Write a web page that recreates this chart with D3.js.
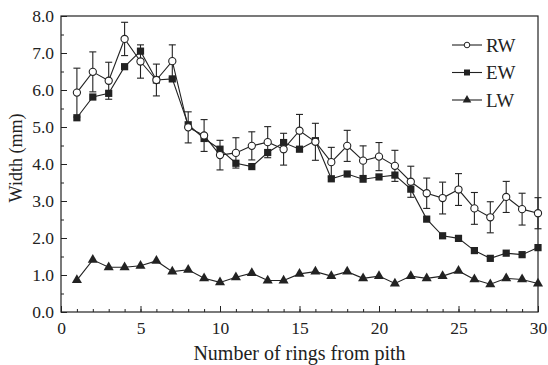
<!DOCTYPE html>
<html>
<head>
<meta charset="utf-8">
<script src="https://cdn.jsdelivr.net/npm/d3@7"></script>
<style>
  body { margin: 0; background: #fff; }
  svg { font-family: "Liberation Serif", "Times New Roman", serif; }
</style>
</head>
<body>
<svg id="chart" width="548" height="365"></svg>
<script>
// ring number from pith
const rings = d3.range(1, 31);
// ring width (RW), earlywood (EW), latewood (LW) in mm
const rw = [5.93, 6.49, 6.25, 7.38, 6.77, 6.27, 6.78, 4.99, 4.77, 4.24,
            4.30, 4.49, 4.59, 4.40, 4.90, 4.60, 4.05, 4.49, 4.09, 4.20,
            3.95, 3.52, 3.21, 3.08, 3.31, 2.80, 2.56, 3.11, 2.78, 2.67];
const rwErr = [0.66, 0.54, 0.50, 0.45, 0.45, 0.43, 0.44, 0.42, 0.43, 0.40,
               0.41, 0.38, 0.42, 0.43, 0.44, 0.50, 0.40, 0.42, 0.40, 0.38,
               0.42, 0.42, 0.41, 0.43, 0.43, 0.43, 0.42, 0.42, 0.43, 0.42];
const ew = [5.25, 5.81, 5.91, 6.63, 7.05, 6.27, 6.30, 5.06, 4.69, 4.40,
            4.02, 3.93, 4.31, 4.58, 4.40, 4.63, 3.60, 3.73, 3.59, 3.65,
            3.70, 3.32, 2.51, 2.06, 1.99, 1.66, 1.45, 1.59, 1.55, 1.74];
const lw = [0.86, 1.41, 1.21, 1.21, 1.25, 1.38, 1.09, 1.14, 0.91, 0.80,
            0.94, 1.05, 0.85, 0.85, 1.03, 1.09, 0.97, 1.09, 0.91, 0.97,
            0.77, 0.97, 0.91, 0.97, 1.11, 0.88, 0.75, 0.91, 0.88, 0.77];
const yTicks = [0, 1, 2, 3, 4, 5, 6, 7, 8];
const xTicks = [0, 5, 10, 15, 20, 25, 30];
const seriesNames = ['RW', 'EW', 'LW'];

const svg = d3.select('#chart');
const margin = { top: 16, right: 10, bottom: 53, left: 61 };
const width = 548, height = 365;
const innerWidth = width - margin.left - margin.right;
const innerHeight = height - margin.top - margin.bottom;
const ink = '#222';

const x = d3.scaleLinear().domain([0, 30]).range([0, innerWidth]);
const y = d3.scaleLinear().domain([0, 8]).range([innerHeight, 0]);

const g = svg.append('g').attr('transform', `translate(${margin.left},${margin.top})`);

// minor ticks (inward), no labels
g.append('g').attr('transform', `translate(0,${innerHeight})`)
  .call(d3.axisBottom(x).tickValues(d3.range(0, 31)).tickSize(-3).tickFormat(''))
  .call(a => { a.select('.domain').remove(); a.selectAll('text').remove(); });
g.append('g')
  .call(d3.axisLeft(y).tickValues(d3.range(0, 8.5, 0.5)).tickSize(-3).tickFormat(''))
  .call(a => { a.select('.domain').remove(); a.selectAll('text').remove(); });

// major ticks + labels
const xAxis = g.append('g').attr('transform', `translate(0,${innerHeight})`)
  .call(d3.axisBottom(x).tickValues(xTicks).tickSize(-6).tickPadding(10).tickFormat(d3.format('d')));
const yAxis = g.append('g')
  .call(d3.axisLeft(y).tickValues(yTicks).tickSize(-6).tickPadding(7).tickFormat(d3.format('.1f')));
[xAxis, yAxis].forEach(a => {
  a.select('.domain').remove();
  a.selectAll('text').attr('font-size', 17.5).attr('fill', ink)
    .style('font-family', '"Liberation Serif", serif');
});
g.selectAll('.tick line').attr('stroke', ink);

// frame
g.append('rect').attr('width', innerWidth).attr('height', innerHeight)
  .attr('fill', 'none').attr('stroke', ink).attr('stroke-width', 1.2);

// error bars for RW
const eb = g.append('g').attr('stroke', ink).attr('stroke-width', 1.1);
rings.forEach((r, i) => {
  const cx = x(r), top = y(rw[i] + rwErr[i]), bot = y(rw[i] - rwErr[i]);
  eb.append('line').attr('x1', cx).attr('x2', cx).attr('y1', top).attr('y2', bot);
  eb.append('line').attr('x1', cx - 3.5).attr('x2', cx + 3.5).attr('y1', top).attr('y2', top);
  eb.append('line').attr('x1', cx - 3.5).attr('x2', cx + 3.5).attr('y1', bot).attr('y2', bot);
});

const line = d3.line().x((d, i) => x(rings[i])).y(d => y(d));
[ew, lw, rw].forEach(s => {
  g.append('path').attr('d', line(s)).attr('fill', 'none')
    .attr('stroke', ink).attr('stroke-width', 1.1);
});

const sq = d3.symbol().type(d3.symbolSquare).size(52);
const tri = d3.symbol().type(d3.symbolTriangle).size(44);

g.append('g').selectAll('path').data(ew).enter().append('path')
  .attr('d', sq).attr('fill', ink)
  .attr('transform', (d, i) => `translate(${x(rings[i])},${y(d)})`);
g.append('g').selectAll('path').data(lw).enter().append('path')
  .attr('d', tri).attr('fill', ink)
  .attr('transform', (d, i) => `translate(${x(rings[i])},${y(d)})`);
g.append('g').selectAll('circle').data(rw).enter().append('circle')
  .attr('r', 3.6).attr('fill', '#fff').attr('stroke', ink).attr('stroke-width', 1.1)
  .attr('cx', (d, i) => x(rings[i])).attr('cy', d => y(d));

// legend
const lg = svg.append('g');
seriesNames.forEach((name, i) => {
  const ly = 45 + i * 27.5;
  lg.append('line').attr('x1', 452).attr('x2', 482).attr('y1', ly).attr('y2', ly)
    .attr('stroke', ink).attr('stroke-width', 1.1);
  if (name === 'RW') {
    lg.append('circle').attr('r', 2.8).attr('cx', 467).attr('cy', ly)
      .attr('fill', '#fff').attr('stroke', ink);
  } else {
    lg.append('path').attr('d', name === 'EW' ? d3.symbol().type(d3.symbolSquare).size(36)
      : d3.symbol().type(d3.symbolTriangle).size(32))
      .attr('fill', ink).attr('transform', `translate(467,${ly})`);
  }
  lg.append('text').attr('x', 486).attr('y', ly).attr('dy', '0.35em')
    .attr('font-size', 19).attr('fill', ink).text(name);
});

// axis titles
svg.append('text').attr('x', margin.left + innerWidth / 2).attr('y', 360)
  .attr('text-anchor', 'middle').attr('font-size', 20).attr('fill', ink)
  .text('Number of rings from pith');
svg.append('text').attr('transform', `translate(22,${margin.top + innerHeight / 2 - 6}) rotate(-90)`)
  .attr('text-anchor', 'middle').attr('font-size', 18).attr('fill', ink)
  .text('Width (mm)');
</script>
</body>
</html>
